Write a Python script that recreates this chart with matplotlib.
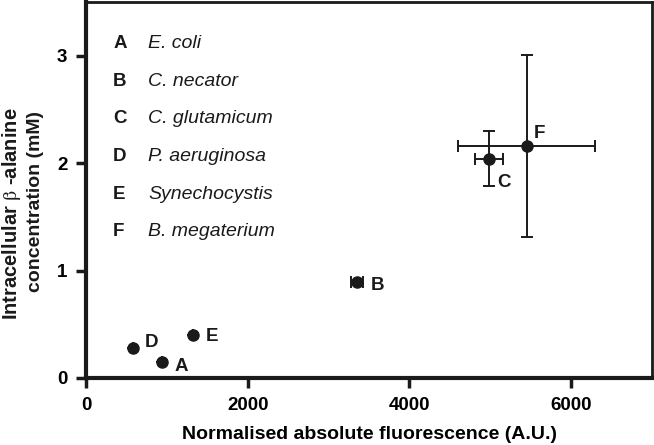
import matplotlib
matplotlib.use("Agg")
from matplotlib import pyplot as plt

plt.rcParams['font.family'] = ['Liberation Sans', 'DejaVu Sans']
plt.rcParams['mathtext.fontset'] = 'stix'

# strain data
letters = ["A", "B", "C", "D", "E", "F"]
species = ["E. coli", "C. necator", "C. glutamicum", "P. aeruginosa",
           "Synechocystis", "B. megaterium"]
fluor = [945, 3352, 4982, 586, 1321, 5449]
fluor_err = [0, 75, 176, 0, 0, 845]
conc = [0.15, 0.89, 2.04, 0.28, 0.40, 2.16]
conc_err = [0, 0, 0.255, 0, 0, 0.85]

# label offsets in points (dx, dy)
offsets = {"A": (9, -3), "B": (10, -2), "C": (6, -17), "D": (8, 4),
           "E": (9, -1), "F": (5, 9)}

fig = plt.figure(figsize=(6.54, 4.45), dpi=100)
ax = fig.add_axes([0.1315, 0.1506, 0.8655, 0.845])

ax.errorbar(fluor, conc, xerr=fluor_err, yerr=conc_err, fmt="o",
            color="#1a1a1a", ms=8, elinewidth=1.4, capsize=4.5, capthick=1.4)

for l, x, y in zip(letters, fluor, conc):
    ax.annotate(l, (x, y), xytext=offsets[l], textcoords="offset points",
                ha="left", va="center", fontsize=13.5, fontweight="bold",
                color="#1a1a1a")

for i, (l, s) in enumerate(zip(letters, species)):
    yy = 0.889 - i * 0.1
    ax.text(0.048, yy, l, transform=ax.transAxes, fontsize=13.5,
            fontweight="bold", va="center", color="#1a1a1a")
    ax.text(0.1095, yy, s, transform=ax.transAxes, fontsize=14,
            fontstyle="italic", va="center", color="#1a1a1a")

ax.set_xlim(0, 7000)
ax.set_ylim(0, 3.5)
ax.set_xticks([0, 2000, 4000, 6000])
ax.set_yticks([0, 1, 2, 3])
ax.tick_params(direction="out", length=7.5, width=2.5, labelsize=13.5,
               color="#1a1a1a", pad=6)
for lab in ax.get_xticklabels() + ax.get_yticklabels():
    lab.set_fontweight("bold")

for side in ["left", "bottom"]:
    ax.spines[side].set_linewidth(3)
for side in ["top", "right"]:
    ax.spines[side].set_linewidth(2)
for sp in ax.spines.values():
    sp.set_color("#1a1a1a")

ax.set_xlabel("Normalised absolute fluorescence (A.U.)", fontsize=14,
              fontweight="bold", labelpad=9)

# y label, two lines placed separately as in the original
fig.text(0.0175, 0.519, "Intracellular $\\mathrm{\\beta}$ -alanine",
         rotation=90, ha="center", va="center", fontsize=14.5,
         fontweight="bold", color="#1a1a1a")
fig.text(0.055, 0.548, "concentration (mM)", rotation=90, ha="center",
         va="center", fontsize=14, fontweight="bold", color="#1a1a1a")

fig.savefig("out.png", dpi=100)
